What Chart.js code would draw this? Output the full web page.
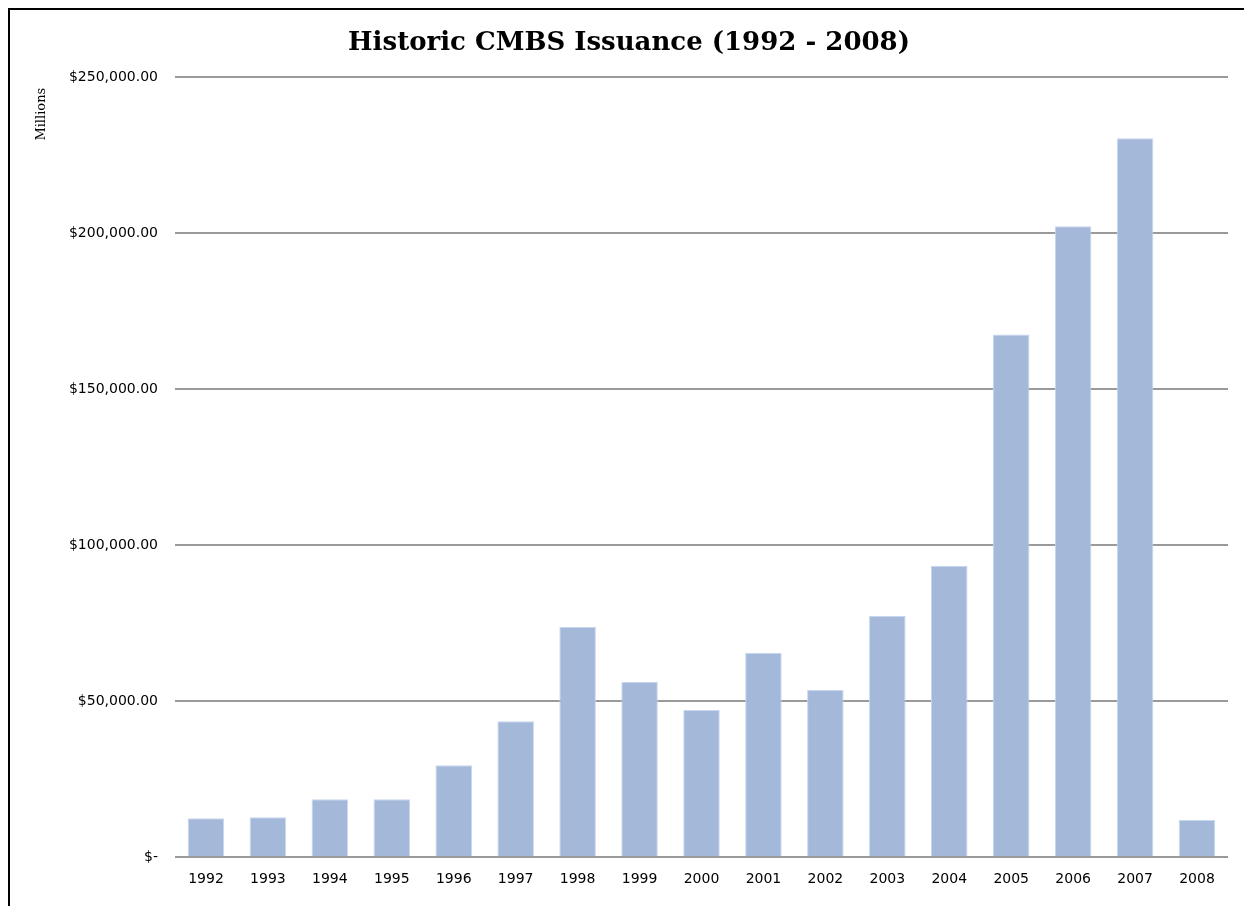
<!DOCTYPE html>
<html>
<head>
<meta charset="utf-8">
<title>Historic CMBS Issuance</title>
<script src="https://cdn.jsdelivr.net/npm/chart.js@4/dist/chart.umd.min.js"></script>
<style>
  html, body {
    margin: 0;
    padding: 0;
    background: #ffffff;
    overflow: hidden;
  }
  #wrap {
    position: relative;
    width: 1244px;
    height: 906px;
  }
  #frame {
    position: absolute;
    left: 8px;
    top: 8px;
    width: 1300px;
    height: 1000px;
    border: 2px solid #000000;
    pointer-events: none;
  }
</style>
</head>
<body>
<div id="wrap">
  <canvas id="cmbsChart" width="1244" height="906"></canvas>
  <div id="frame"></div>
</div>
<script>
const years = [
  "1992", "1993", "1994", "1995", "1996", "1997", "1998", "1999", "2000",
  "2001", "2002", "2003", "2004", "2005", "2006", "2007", "2008"
];

// issuance in millions of dollars
const issuance = [
  12500, 12800, 18600, 18600, 29500, 43600, 73800, 56200, 47200,
  65500, 53600, 77300, 93400, 167500, 202200, 230400, 11900
];

const yTicks = [0, 50000, 100000, 150000, 200000, 250000];

const BAR_FILL = "#a4b8d9";
const BAR_EDGE = "#c8d7ee";
const GRID_GRAY = "#9a9a9a";

function formatDollars(value) {
  if (value === 0) {
    return "$-";
  }
  return "$" + value.toLocaleString("en-US", {
    minimumFractionDigits: 2,
    maximumFractionDigits: 2
  });
}

// the "Millions" unit label sits near the top of the y axis, not centred
const unitLabel = {
  id: "unitLabel",
  afterDraw: function (chart) {
    const ctx = chart.ctx;
    ctx.save();
    ctx.translate(42, chart.chartArea.top + 37);
    ctx.rotate(-Math.PI / 2);
    ctx.fillStyle = "#000000";
    ctx.font = "13px 'DejaVu Serif', serif";
    ctx.textAlign = "center";
    ctx.textBaseline = "middle";
    ctx.fillText("Millions", 0, 0);
    ctx.restore();
  }
};

const canvas = document.getElementById("cmbsChart");

new Chart(canvas, {
  type: "bar",
  data: {
    labels: years,
    datasets: [{
      label: "CMBS Issuance",
      data: issuance,
      backgroundColor: BAR_FILL,
      borderColor: BAR_EDGE,
      borderWidth: 1,
      barPercentage: 0.59,
      categoryPercentage: 1
    }]
  },
  plugins: [unitLabel],
  options: {
    responsive: false,
    animation: false,
    events: [],
    layout: {
      padding: { left: 30, right: 16, top: 18, bottom: 4 }
    },
    plugins: {
      legend: { display: false },
      tooltip: { enabled: false },
      title: {
        display: true,
        text: "Historic CMBS Issuance (1992 - 2008)",
        color: "#000000",
        font: { family: "'DejaVu Serif', serif", size: 26, weight: "bold" },
        padding: { top: 10, bottom: 18 }
      }
    },
    scales: {
      x: {
        grid: { display: false, drawTicks: false },
        border: { display: false },
        ticks: {
          color: "#000000",
          padding: 14,
          maxRotation: 0,
          font: { family: "'DejaVu Sans', sans-serif", size: 14 }
        }
      },
      y: {
        min: 0,
        max: 250000,
        afterBuildTicks: function (scale) {
          scale.ticks = yTicks.map(function (v) {
            return { value: v };
          });
        },
        afterFit: function (scale) {
          scale.width = 145;
        },
        grid: {
          color: GRID_GRAY,
          lineWidth: 2,
          drawTicks: false
        },
        border: { display: false },
        ticks: {
          color: "#000000",
          padding: 17,
          font: { family: "'DejaVu Sans', sans-serif", size: 14 },
          callback: function (value) {
            return formatDollars(value);
          }
        }
      }
    }
  }
});
</script>
</body>
</html>
